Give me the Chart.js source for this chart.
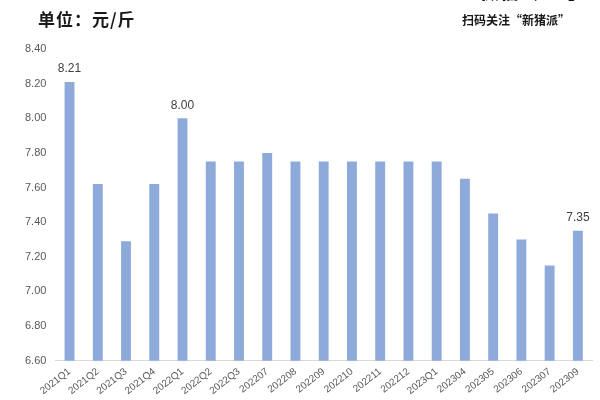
<!DOCTYPE html>
<html>
<head>
<meta charset="utf-8">
<script src="https://cdn.jsdelivr.net/npm/chart.js@4"></script>
<style>
  html, body { margin: 0; padding: 0; background: #fff; overflow: hidden; }
  #wrap { position: relative; width: 600px; height: 400px; overflow: hidden; }
  #title { position: absolute; left: 38px; top: 6px; font: bold 17px "Noto Sans CJK SC", sans-serif; color: #1a1a1a; letter-spacing: 1px; }
  #scan { position: absolute; left: 462px; top: 11px; font: bold 12px "Noto Sans CJK SC", sans-serif; color: #1a1a1a; }
  #brand { position: absolute; left: 480px; top: -23px; font: 900 19px "Noto Sans CJK SC", sans-serif; color: #111; letter-spacing: 1px; }
</style>
</head>
<body>
<div id="wrap">
  <canvas id="chart" width="600" height="400"></canvas>
  <div id="title">单位：元/斤</div>
  <div id="brand">微信公众号</div>
  <div id="scan">扫码关注“新猪派”</div>
</div>
<script>
// 月度/季度价格（元/斤）
const labels = ["2021Q1", "2021Q2", "2021Q3", "2021Q4", "2022Q1", "2022Q2", "2022Q3",
  "202207", "202208", "202209", "202210", "202211", "202212", "2023Q1",
  "202304", "202305", "202306", "202307", "202309"];
const prices = [8.21, 7.62, 7.29, 7.62, 8.00, 7.75, 7.75,
  7.80, 7.75, 7.75, 7.75, 7.75, 7.75, 7.75,
  7.65, 7.45, 7.30, 7.15, 7.35];
// 标注数值的柱子
const marked = ["2021Q1", "2022Q1", "202309"];
const yTicks = [6.6, 6.8, 7.0, 7.2, 7.4, 7.6, 7.8, 8.0, 8.2, 8.4];

// 柱顶数值标签
const valueLabels = {
  id: "valueLabels",
  afterDatasetsDraw(chart) {
    const ctx = chart.ctx;
    const meta = chart.getDatasetMeta(0);
    ctx.save();
    ctx.font = "12px 'Liberation Sans', Arial, sans-serif";
    ctx.fillStyle = "#404040";
    ctx.textAlign = "center";
    ctx.textBaseline = "bottom";
    meta.data.forEach((bar, i) => {
      if (!marked.includes(labels[i])) return;
      ctx.fillText(prices[i].toFixed(2), bar.x, bar.y - 7);
    });
    ctx.restore();
  }
};

new Chart(document.getElementById("chart"), {
  type: "bar",
  data: {
    labels,
    datasets: [{ data: prices, backgroundColor: "#8eaadb", barPercentage: 0.35, categoryPercentage: 1 }]
  },
  options: {
    responsive: false,
    animation: false,
    layout: { padding: { left: 16, right: 8, top: 49, bottom: -2 } },
    plugins: { legend: { display: false }, tooltip: { enabled: false } },
    scales: {
      x: {
        grid: { display: false, drawTicks: false },
        border: { color: "#d9d9d9" },
        ticks: {
          minRotation: 38, maxRotation: 38, padding: 5,
          color: "#595959", font: { size: 10, family: "'Liberation Sans', Arial, sans-serif" }
        }
      },
      y: {
        min: 6.6, max: 8.4,
        afterBuildTicks: axis => { axis.ticks = yTicks.map(v => ({ value: v })); },
        grid: { display: false, drawTicks: false },
        border: { display: false },
        ticks: {
          padding: 9,
          color: "#595959", font: { size: 11, family: "'Liberation Sans', Arial, sans-serif" },
          callback: v => Number(v).toFixed(2)
        }
      }
    }
  },
  plugins: [valueLabels]
});
</script>
</body>
</html>
